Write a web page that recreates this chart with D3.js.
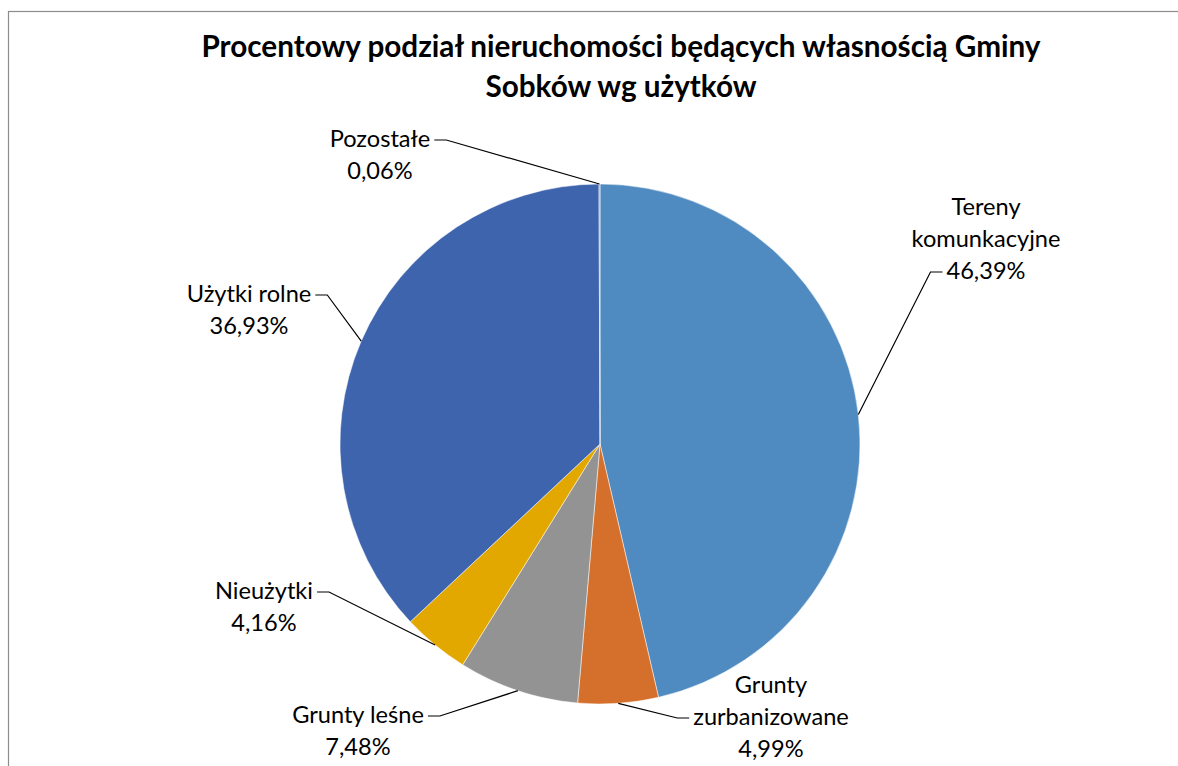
<!DOCTYPE html>
<html>
<head>
<meta charset="utf-8">
<script src="https://cdn.jsdelivr.net/npm/d3@7"></script>
<style>
  body { margin: 0; background: #fff; }
  svg { display: block; }
</style>
</head>
<body>
<div id="chart"></div>
<script>
// data
var categories = ["Tereny komunikacyjne", "Grunty zurbanizowane", "Grunty leśne", "Nieużytki", "Użytki rolne", "Pozostałe"];
var values = [46.39, 4.99, 7.48, 4.16, 36.93, 0.06];
var valueLabels = ["46,39%", "4,99%", "7,48%", "4,16%", "36,93%", "0,06%"];
var labelLines = [["Tereny", "komunkacyjne"], ["Grunty", "zurbanizowane"], ["Grunty leśne"], ["Nieużytki"], ["Użytki rolne"], ["Pozostałe"]];
var sliceColors = ["#4F8BC0", "#D4702B", "#939393", "#E2A800", "#3E64AE", "#86A97E"];
var titleLines = ["Procentowy podział nieruchomości będących własnością Gminy", "Sobków wg użytków"];

// layout: label block centre x, first baseline y, and leader elbow
var labelLayout = [
  {x: 986, y: 215, side: "left", line: 2},
  {x: 771, y: 693, side: "left", line: 1},
  {x: 358, y: 723, side: "right", line: 0},
  {x: 264, y: 599, side: "right", line: 0},
  {x: 249, y: 302, side: "right", line: 0},
  {x: 380, y: 147, side: "right", line: 0}
];

var width = 1178, height = 766;
var cx = 600, cy = 444, radius = 260;
var lineH = 32;

var svg = d3.select("#chart").append("svg")
    .attr("width", width)
    .attr("height", height);

// chart frame (right and bottom edges fall outside the picture)
svg.append("rect")
    .attr("x", 8.5).attr("y", 11.5)
    .attr("width", 1200).attr("height", 800)
    .attr("fill", "none")
    .attr("stroke", "#8c8c8c")
    .attr("stroke-width", 1.2);

svg.append("g").selectAll("text")
    .data(titleLines)
    .enter().append("text")
    .attr("x", 621)
    .attr("y", function(d, i) { return 57 + i * 40; })
    .attr("text-anchor", "middle")
    .style("font-family", "Lato, 'Open Sans', sans-serif")
    .style("font-weight", "bold")
    .style("font-size", "29.7px")
    .attr("fill", "#000")
    .text(function(d) { return d; });

var pie = d3.pie().sort(null).value(function(d) { return d; });
var arc = d3.arc().innerRadius(0).outerRadius(radius);
var arcs = pie(values);

var g = svg.append("g").attr("transform", "translate(" + cx + "," + cy + ")");

g.selectAll("path")
    .data(arcs)
    .enter().append("path")
    .attr("d", arc)
    .attr("fill", function(d, i) { return sliceColors[i]; })
    .attr("stroke", "#fff")
    .attr("stroke-width", 0.5);

// labels and leader lines
var labels = svg.append("g");
arcs.forEach(function(a, i) {
    var L = labelLayout[i];
    var lines = labelLines[i].concat([valueLabels[i]]);
    var t = labels.append("text")
        .attr("text-anchor", "middle")
        .style("font-family", "Lato, 'Open Sans', sans-serif")
        .style("font-size", "23.6px")
        .attr("fill", "#000");
    lines.forEach(function(s, k) {
        t.append("tspan")
            .attr("x", L.x)
            .attr("y", L.y + k * lineH)
            .text(s);
    });

    // leader: short horizontal tick beside the label line, then to the arc edge
    var nodes = t.selectAll("tspan").nodes();
    var box = nodes[L.line].getComputedTextLength();
    var ly = L.y + L.line * lineH - 7;
    var x0, x1;
    if (L.side === "left") {
        x0 = L.x - box / 2 - 4;
        x1 = x0 - 12;
    } else {
        x0 = L.x + box / 2 + 4;
        x1 = x0 + 12;
    }
    var mid = (a.startAngle + a.endAngle) / 2;
    var ex = cx + radius * Math.sin(mid);
    var ey = cy - radius * Math.cos(mid);
    labels.append("path")
        .attr("d", d3.line()([[x0, ly], [x1, ly], [ex, ey]]))
        .attr("fill", "none")
        .attr("stroke", "#000")
        .attr("stroke-width", 1.2);
});
</script>
</body>
</html>
